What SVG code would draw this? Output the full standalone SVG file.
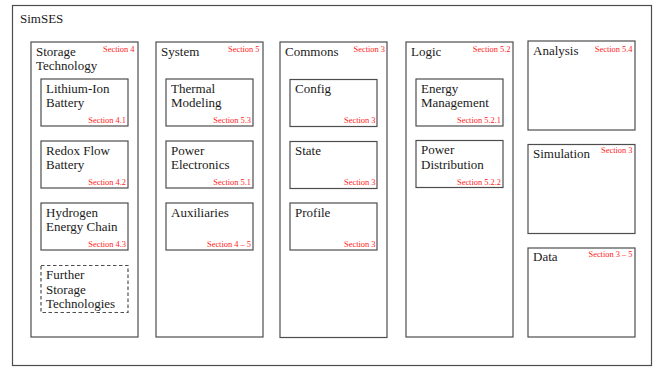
<svg xmlns="http://www.w3.org/2000/svg" width="657" height="367" viewBox="0 0 657 367">
<style>
rect{fill:#fff;stroke:#4d4d4d;stroke-width:1.2}
.dash{stroke-dasharray:3.5 2.5}
text{font-family:"Liberation Serif","Times New Roman",serif;fill:#1a1a1a}
.t{font-size:13px}
.s{font-size:8.4px;fill:#ff1a1a;text-anchor:end}
</style>
<rect x="0" y="0" width="657" height="367" style="stroke:none"/>
<g id="simses">
<rect x="12.5" y="5.5" width="639" height="360"/>
<text class="t" x="20" y="22.5">SimSES</text>
</g>
<g id="storage-technology">
<rect x="31" y="42" width="107" height="295"/>
<text class="t" x="36" y="55.7">Storage</text>
<text class="t" x="36" y="70.2">Technology</text>
<text class="s" x="134.5" y="52.3">Section 4</text>
</g>
<g id="lithium-ion">
<rect x="41" y="79" width="87" height="47"/>
<text class="t" x="46" y="92.7">Lithium-Ion</text>
<text class="t" x="46" y="107.2">Battery</text>
<text class="s" x="126" y="123.3">Section 4.1</text>
</g>
<g id="redox-flow">
<rect x="41" y="141" width="87" height="47"/>
<text class="t" x="46" y="154.7">Redox Flow</text>
<text class="t" x="46" y="169.2">Battery</text>
<text class="s" x="126" y="185.3">Section 4.2</text>
</g>
<g id="hydrogen">
<rect x="41" y="203" width="87" height="47"/>
<text class="t" x="46" y="216.7">Hydrogen</text>
<text class="t" x="46" y="231.2">Energy Chain</text>
<text class="s" x="126" y="247.3">Section 4.3</text>
</g>
<g id="further-storage">
<rect class="dash" x="41" y="265.5" width="87" height="47"/>
<text class="t" x="46" y="279.2">Further</text>
<text class="t" x="46" y="293.7">Storage</text>
<text class="t" x="46" y="308.2">Technologies</text>
</g>
<g id="system">
<rect x="156" y="42" width="107" height="295"/>
<text class="t" x="161" y="55.7">System</text>
<text class="s" x="259.5" y="52.3">Section 5</text>
</g>
<g id="thermal">
<rect x="166" y="79" width="87" height="47"/>
<text class="t" x="171" y="92.7">Thermal</text>
<text class="t" x="171" y="107.2">Modeling</text>
<text class="s" x="251" y="123.3">Section 5.3</text>
</g>
<g id="power-electronics">
<rect x="166" y="141" width="87" height="47"/>
<text class="t" x="171" y="154.7">Power</text>
<text class="t" x="171" y="169.2">Electronics</text>
<text class="s" x="251" y="185.3">Section 5.1</text>
</g>
<g id="auxiliaries">
<rect x="166" y="203" width="87" height="47"/>
<text class="t" x="171" y="216.7">Auxiliaries</text>
<text class="s" x="251" y="247.3">Section 4 – 5</text>
</g>
<g id="commons">
<rect x="280" y="42" width="107" height="295.5"/>
<text class="t" x="285" y="55.7">Commons</text>
<text class="s" x="385" y="52.3">Section 3</text>
</g>
<g id="config">
<rect x="290" y="79.5" width="87" height="47"/>
<text class="t" x="295" y="93">Config</text>
<text class="s" x="375.5" y="123.3">Section 3</text>
</g>
<g id="state">
<rect x="290" y="141.5" width="87" height="47"/>
<text class="t" x="295" y="155">State</text>
<text class="s" x="375.5" y="185.3">Section 3</text>
</g>
<g id="profile">
<rect x="290" y="203" width="87" height="47"/>
<text class="t" x="295" y="217">Profile</text>
<text class="s" x="375.5" y="246.5">Section 3</text>
</g>
<g id="logic">
<rect x="406" y="42" width="107" height="295"/>
<text class="t" x="411" y="55.7">Logic</text>
<text class="s" x="510.5" y="52.3">Section 5.2</text>
</g>
<g id="energy-management">
<rect x="416" y="79" width="87" height="47"/>
<text class="t" x="421" y="92.7">Energy</text>
<text class="t" x="421" y="107.2">Management</text>
<text class="s" x="501" y="123.3">Section 5.2.1</text>
</g>
<g id="power-distribution">
<rect x="416" y="140.5" width="87" height="47"/>
<text class="t" x="421" y="154.2">Power</text>
<text class="t" x="421" y="168.7">Distribution</text>
<text class="s" x="501" y="184.8">Section 5.2.2</text>
</g>
<g id="analysis">
<rect x="528" y="41" width="107" height="89"/>
<text class="t" x="533" y="55">Analysis</text>
<text class="s" x="632.5" y="52.3">Section 5.4</text>
</g>
<g id="simulation">
<rect x="528" y="144.5" width="107" height="89"/>
<text class="t" x="533" y="157.7">Simulation</text>
<text class="s" x="632.5" y="153.3">Section 3</text>
</g>
<g id="data">
<rect x="528" y="248" width="107" height="89"/>
<text class="t" x="533" y="261">Data</text>
<text class="s" x="632.5" y="257.3">Section 3 – 5</text>
</g>
<g id="connectors"></g>
</svg>
